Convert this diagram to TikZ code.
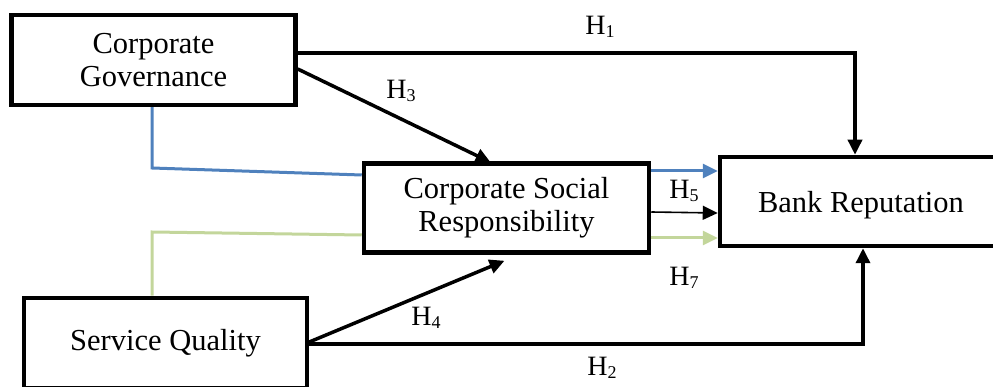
\documentclass[tikz,border=0pt]{standalone}
\usepackage{fontspec}
\setmainfont{Liberation Serif}
\usetikzlibrary{arrows.meta}
\definecolor{cblue}{HTML}{4F81BD}
\definecolor{cgreen}{HTML}{C3D69B}
\newcommand{\hlab}[1]{H\raisebox{-3pt}{\fontsize{18}{18}\selectfont #1}}
\tikzset{
  boxnode/.style={draw, line width=4.5pt, rectangle, align=center,
    font=\fontsize{30.5}{33}\selectfont, inner sep=0pt},
  conn/.style={line width=3.5pt, -{Triangle[length=15pt,width=14pt]}},
  thinconn/.style={line width=1.6pt, -{Triangle[length=15pt,width=14pt]}},
  blueline/.style={line width=3pt, cblue},
  greenline/.style={line width=3pt, cgreen},
  bluearrow/.style={line width=3pt, cblue, -{Triangle[length=15pt,width=14pt]}},
  greenarrow/.style={line width=3pt, cgreen, -{Triangle[length=15pt,width=14pt]}},
  hlabel/.style={font=\fontsize{28}{28}\selectfont, inner sep=0pt}
}
\begin{document}
\begin{tikzpicture}[x=1pt,y=-1pt]
\useasboundingbox (0,0) rectangle (993,387);
\clip (0,0) rectangle (993,387);
% boxes
\node[boxnode, minimum width=284pt, minimum height=90pt] (CG) at (153.5,60) {Corporate\\Governance};
\node[boxnode, minimum width=285pt, minimum height=89pt] (CSR) at (506.5,208) {Corporate Social\\Responsibility};
\node[boxnode, minimum width=300pt, minimum height=89pt, text depth=0pt] (BR) at (870,201.5) {Bank Reputation\hspace*{18pt}};
\node[boxnode, minimum width=283pt, minimum height=90pt] (SQ) at (165.5,343) {Service Quality};
% coordinates for the bends of the coloured lines
\coordinate (bb) at (152,168);
\coordinate (gb) at (152,232);
% H1
\draw[conn] ([yshift=7pt]CG.east) -| ([xshift=-15pt]BR.north);
% H3
\draw[conn] ([yshift=-9pt]CG.east) -- ([xshift=-16pt,yshift=-1pt]CSR.north);
% blue moderation line
\draw[blueline] (CG.south -| bb) -- (bb) -- ([yshift=33pt]CSR.west);
\draw[bluearrow] ([yshift=37pt]CSR.east) coordinate (b1) -- (b1 -| BR.west);
% H5
\draw[thinconn] ([yshift=-4pt]CSR.east) coordinate (b2) -- ([yshift=-11.5pt]BR.west);
% green moderation line
\draw[greenline] (SQ.north -| gb) -- (gb) -- ([yshift=-27pt]CSR.west);
\draw[greenarrow] ([yshift=-30pt]CSR.east) coordinate (b3) -- (b3 -| BR.west);
% H4
\draw[conn] ([yshift=1pt]SQ.east) -- ([xshift=-2pt,yshift=-6pt]CSR.south);
% H2
\draw[conn] ([yshift=-1pt]SQ.east) -| ([xshift=-7pt]BR.south);
% labels
\node[hlabel] (L1) at (600,27) {\hlab{1}};
\node[hlabel] (L3) at (401,91) {\hlab{3}};
\node[hlabel] (L5) at (684,191) {\hlab{5}};
\node[hlabel] (L7) at (684,278) {\hlab{7}};
\node[hlabel] (L4) at (426,318) {\hlab{4}};
\node[hlabel] (L2) at (602,368) {\hlab{2}};
\end{tikzpicture}
\end{document}
